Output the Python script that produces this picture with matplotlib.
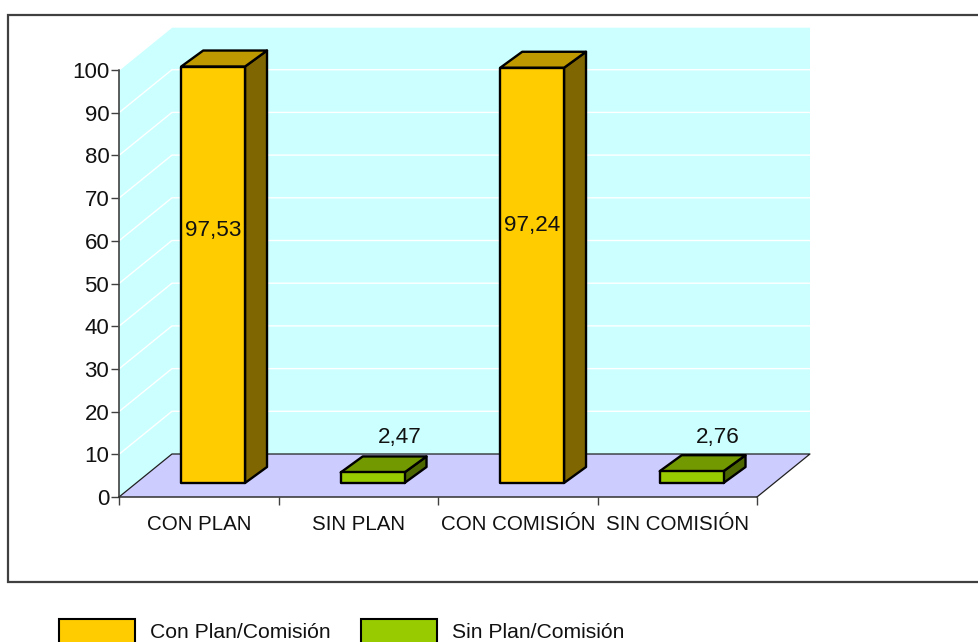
import matplotlib
matplotlib.use("Agg")
import matplotlib.pyplot as plt
from matplotlib.patches import Rectangle

plt.rcParams['font.family'] = ['Liberation Sans', 'DejaVu Sans']

categorias = ["CON PLAN", "SIN PLAN", "CON COMISIÓN", "SIN COMISIÓN"]
valores = [97.53, 2.47, 97.24, 2.76]
etiquetas = ["97,53", "2,47", "97,24", "2,76"]
yticks = list(range(0, 101, 10))
series = ["Con Plan/Comisión", "Sin Plan/Comisión"]

# front, top, side
amarillo = ("#FFCC00", "#BF9900", "#7F6600")
verde = ("#99CC00", "#739900", "#4C6600")
colores = [amarillo, verde, amarillo, verde]

# 3d look, in data units
DX, DY = 0.332, 10.07       # depth of the floor
OFF_X, OFF_Y = 0.09, 3.28   # bar base offset from the front
BAR_W = 0.40
BAR_DX, BAR_DY = 0.138, 3.75

W, H = 979, 642
fig = plt.figure(figsize=(W / 100, H / 100), dpi=100, facecolor="white")


def fx(px):
    return px / W


def fy(px):
    return 1 - px / H


# outer frame runs off the right edge
fig.add_artist(Rectangle((fx(8), fy(582)), fx(990 - 8), fy(15) - fy(582),
                         transform=fig.transFigure, fc="white", ec="#404040", lw=1.6, zorder=0))

ax = fig.add_axes([fx(119), fy(497), fx(757 - 119), 427 / H], zorder=1)
ax.patch.set_visible(False)
ax.set_xlim(0, 4)
ax.set_ylim(0, 100)

# walls and floor
ax.fill([DX, 4 + DX, 4 + DX, DX], [DY, DY, 100 + DY, 100 + DY], fc="#CCFFFF", ec="none", clip_on=False, zorder=1)
ax.fill([0, DX, DX, 0], [0, DY, 100 + DY, 100], fc="#CCFFFF", ec="none", clip_on=False, zorder=1)
ax.fill([0, 4, 4 + DX, DX], [0, 0, DY, DY], fc="#CCCCFF", ec="none", clip_on=False, zorder=2)
ax.plot([0, DX, 4 + DX, 4], [0, DY, DY, 0], color="#202020", lw=0.9, clip_on=False, zorder=3)

for t in yticks[1:]:
    ax.plot([0, DX, 4 + DX], [t, t + DY, t + DY], color="white", lw=1, clip_on=False, zorder=2)

# bars
for i, v in enumerate(valores):
    x0 = i + 0.5 + OFF_X - BAR_W / 2
    x1 = x0 + BAR_W
    y0 = OFF_Y
    y1 = OFF_Y + v
    front, top, side = colores[i]
    kw = dict(ec="black", lw=1.7, clip_on=False, zorder=4, joinstyle="round")
    ax.fill([x1, x1 + BAR_DX, x1 + BAR_DX, x1], [y0, y0 + BAR_DY, y1 + BAR_DY, y1], fc=side, **kw)
    ax.fill([x0, x1, x1 + BAR_DX, x0 + BAR_DX], [y1, y1, y1 + BAR_DY, y1 + BAR_DY], fc=top, **kw)
    ax.fill([x0, x1, x1, x0], [y0, y0, y1, y1], fc=front, **kw)

# data labels
label_x = [0.588, 1.76, 2.59, 3.755]
label_y = [62.35, 13.85, 63.55, 13.85]
for x, y, s in zip(label_x, label_y, etiquetas):
    ax.text(x, y, s, ha="center", va="center", fontsize=16.2, color="#111111", zorder=5, clip_on=False)

# axes
ax.spines["top"].set_visible(False)
ax.spines["right"].set_visible(False)
for s in ("left", "bottom"):
    ax.spines[s].set_color("#303030")
    ax.spines[s].set_linewidth(1.1)
    ax.spines[s].set_zorder(6)
ax.set_yticks(yticks)
ax.tick_params(axis="y", labelsize=16, length=6, width=1, color="#404040", pad=1, labelcolor="#111111")
ax.set_xticks(range(5))
ax.set_xticklabels([])
ax.tick_params(axis="x", which="major", length=6, width=1, color="#404040")
ax.set_xticks([i + 0.5 for i in range(4)], minor=True)
ax.set_xticklabels(categorias, minor=True)
ax.tick_params(axis="x", which="minor", length=0, labelsize=14.8, pad=13, labelcolor="#111111")

# legend, clipped by the bottom of the picture
for px, name, c in zip([59, 361], series, [amarillo[0], verde[0]]):
    fig.add_artist(Rectangle((fx(px), fy(650)), fx(76), fy(619) - fy(650), transform=fig.transFigure,
                             fc=c, ec="black", lw=1.5))
    fig.text(fx(px + 91), fy(632), name, ha="left", va="center", fontsize=15.2, color="#111111")

fig.savefig("out.png", dpi=100)
